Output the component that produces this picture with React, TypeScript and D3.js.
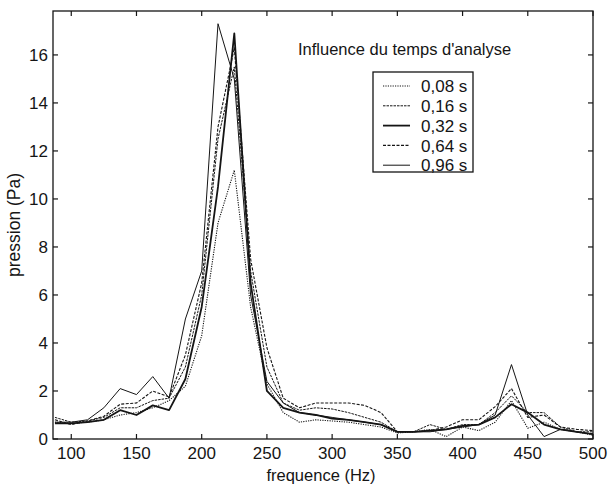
import React from "react";
import * as d3 from "d3";

const frequencies = [
  87.5, 100, 112.5, 125, 137.5, 150, 162.5, 175, 187.5, 200, 212.5, 225,
  237.5, 250, 262.5, 275, 287.5, 300, 312.5, 325, 337.5, 350, 362.5, 375,
  387.5, 400, 412.5, 425, 437.5, 450, 462.5, 475, 487.5, 500,
];

const p008 = [
  0.7, 0.65, 0.7, 0.8, 1.0, 1.1, 1.3, 1.6, 2.2, 4.3, 9.0, 11.2, 5.5, 2.3,
  1.1, 0.7, 0.8, 0.75, 0.7, 0.6, 0.5, 0.25, 0.3, 0.4, 0.1, 0.5, 0.35, 0.7,
  1.6, 0.45, 0.7, 0.4, 0.3, 0.15,
];
const p016 = [
  0.9, 0.7, 0.75, 0.9, 1.3, 1.3, 1.6, 1.7, 3.0, 6.0, 12.5, 15.5, 7.0, 3.0,
  1.5, 1.2, 1.3, 1.25, 1.1, 0.9, 0.7, 0.3, 0.3, 0.6, 0.4, 0.6, 0.6, 1.1, 1.8,
  1.1, 1.1, 0.5, 0.3, 0.3,
];
const p032 = [
  0.65, 0.65, 0.7, 0.8, 1.2, 1.0, 1.4, 1.2, 2.5, 5.5, 10.5, 16.9, 6.5, 2.0,
  1.3, 1.1, 1.0, 0.85, 0.8, 0.7, 0.6, 0.3, 0.3, 0.35, 0.4, 0.55, 0.6, 0.9,
  1.45, 1.1, 0.6, 0.4, 0.3, 0.2,
];
const p064 = [
  0.8, 0.6, 0.75, 0.95, 1.45, 1.5, 2.0, 1.75, 3.5, 6.5, 13.0, 16.3, 7.5, 3.8,
  1.7, 1.3, 1.5, 1.5, 1.5, 1.4, 1.1, 0.3, 0.3, 0.35, 0.5, 0.8, 0.8, 1.35, 2.1,
  0.9, 1.0, 0.5, 0.4, 0.35,
];
const p096 = [
  0.7, 0.7, 0.8, 1.3, 2.1, 1.85, 2.6, 1.7, 5.0, 7.0, 17.3, 15.0, 6.0, 2.4,
  1.5, 1.1, 1.0, 0.9, 0.8, 0.7, 0.6, 0.3, 0.3, 0.3, 0.4, 0.5, 0.6, 1.0, 3.1,
  1.0, 0.1, 0.4, 0.3, 0.2,
];

const seriesLabels = ["0,08 s", "0,16 s", "0,32 s", "0,64 s", "0,96 s"];
const seriesValues = [p008, p016, p032, p064, p096];
const xTicks = [100, 150, 200, 250, 300, 350, 400, 450, 500];
const yTicks = [0, 2, 4, 6, 8, 10, 12, 14, 16];

// line styles follow the legend: dotted, fine dashes, thick, dashes, thin
const dashes = ["1.2,1.2", "2.5,1", "none", "3,1.5", "none"];
const widths = [1.1, 1, 1.8, 1.1, 1];

const left = 53;
const right = 593;
const top = 11;
const bottom = 439;
const font = "'Liberation Sans', Arial, sans-serif";
const ink = "#151515";

export default function App() {
  const x = d3.scaleLinear().domain([86, 500]).range([left, right]);
  const y = d3.scaleLinear().domain([0, 17.83]).range([bottom, top]);

  const line = d3
    .line<number>()
    .x((_, i) => x(frequencies[i]))
    .y((v) => y(v));

  const tick = 5;

  return (
    <svg
      width={608}
      height={485}
      style={{ position: "absolute", left: 0, top: 0, background: "#fff" }}
      fontFamily={font}
      fill={ink}
    >
      <defs>
        <clipPath id="plot">
          <rect x={left} y={top} width={right - left} height={bottom - top} />
        </clipPath>
      </defs>

      <g clipPath="url(#plot)">
        {seriesValues.map((vals, i) => (
          <path
            key={seriesLabels[i]}
            d={line(vals) ?? ""}
            fill="none"
            stroke={ink}
            strokeWidth={widths[i]}
            strokeDasharray={dashes[i]}
            strokeLinejoin="round"
          />
        ))}
      </g>

      <rect
        x={left}
        y={top}
        width={right - left}
        height={bottom - top}
        fill="none"
        stroke={ink}
        strokeWidth={1.3}
      />

      {xTicks.map((t) => (
        <g key={"x" + t}>
          <line x1={x(t)} x2={x(t)} y1={bottom} y2={bottom - tick} stroke={ink} strokeWidth={1.2} />
          <line x1={x(t)} x2={x(t)} y1={top} y2={top + tick} stroke={ink} strokeWidth={1.2} />
          <text x={x(t)} y={bottom + 20} textAnchor="middle" fontSize={17}>
            {t}
          </text>
        </g>
      ))}

      {yTicks.map((t) => (
        <g key={"y" + t}>
          <line x1={left} x2={left + tick} y1={y(t)} y2={y(t)} stroke={ink} strokeWidth={1.2} />
          <line x1={right} x2={right - tick} y1={y(t)} y2={y(t)} stroke={ink} strokeWidth={1.2} />
          <text
            x={left - 5}
            y={y(t)}
            dy="0.36em"
            textAnchor="end"
            fontSize={17}
          >
            {t}
          </text>
        </g>
      ))}

      <text x={321} y={481} textAnchor="middle" fontSize={16.5}>
        frequence (Hz)
      </text>
      <text
        transform={`translate(20,${(top + bottom) / 2}) rotate(-90)`}
        textAnchor="middle"
        fontSize={17.5}
      >
        pression (Pa)
      </text>

      <text x={298} y={55} fontSize={16.5}>
        Influence du temps d'analyse
      </text>

      <g>
        <rect x={373} y={72} width={100} height={100} fill="#fff" stroke={ink} strokeWidth={1.3} />
        {seriesLabels.map((label, i) => {
          const ly = 86 + i * 19.8;
          return (
            <g key={label}>
              <line
                x1={383}
                x2={410}
                y1={ly}
                y2={ly}
                stroke={ink}
                strokeWidth={widths[i]}
                strokeDasharray={dashes[i]}
              />
              <text x={421} y={ly} dy="0.36em" fontSize={17}>
                {label}
              </text>
            </g>
          );
        })}
      </g>
    </svg>
  );
}
